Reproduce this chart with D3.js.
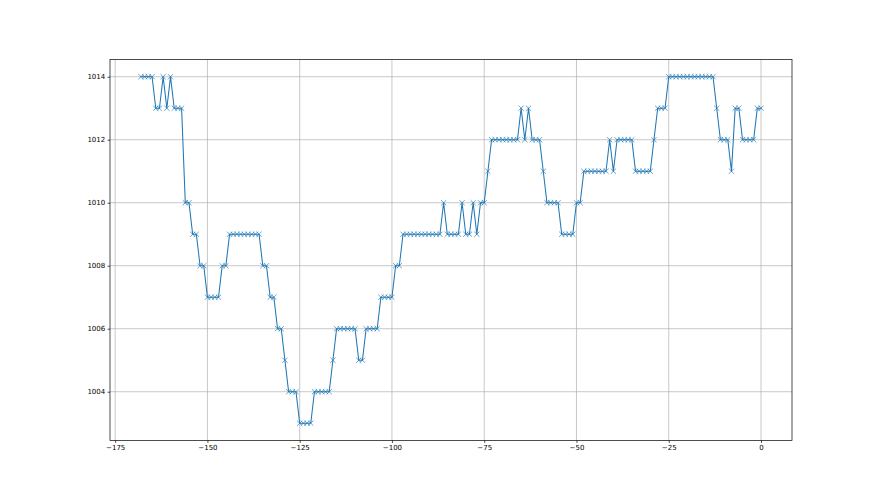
<!DOCTYPE html>
<html><head><meta charset="utf-8">
<script src="https://cdn.jsdelivr.net/npm/d3@7"></script>
<style>body{margin:0;background:#fff} svg{display:block}</style>
</head><body><svg id="c" width="880" height="495"></svg>
<script>
const hours = [
-168,-167,-166,-165,-164,-163,-162,-161,-160,-159,
-158,-157,-156,-155,-154,-153,-152,-151,-150,-149,
-148,-147,-146,-145,-144,-143,-142,-141,-140,-139,
-138,-137,-136,-135,-134,-133,-132,-131,-130,-129,
-128,-127,-126,-125,-124,-123,-122,-121,-120,-119,
-118,-117,-116,-115,-114,-113,-112,-111,-110,-109,
-108,-107,-106,-105,-104,-103,-102,-101,-100,-99,
-98,-97,-96,-95,-94,-93,-92,-91,-90,-89,
-88,-87,-86,-85,-84,-83,-82,-81,-80,-79,
-78,-77,-76,-75,-74,-73,-72,-71,-70,-69,
-68,-67,-66,-65,-64,-63,-62,-61,-60,-59,
-58,-57,-56,-55,-54,-53,-52,-51,-50,-49,
-48,-47,-46,-45,-44,-43,-42,-41,-40,-39,
-38,-37,-36,-35,-34,-33,-32,-31,-30,-29,
-28,-27,-26,-25,-24,-23,-22,-21,-20,-19,
-18,-17,-16,-15,-14,-13,-12,-11,-10,-9,
-8,-7,-6,-5,-4,-3,-2,-1,0];
const pressure = [
1014,1014,1014,1014,1013,1013,1014,1013,1014,1013,
1013,1013,1010,1010,1009,1009,1008,1008,1007,1007,
1007,1007,1008,1008,1009,1009,1009,1009,1009,1009,
1009,1009,1009,1008,1008,1007,1007,1006,1006,1005,
1004,1004,1004,1003,1003,1003,1003,1004,1004,1004,
1004,1004,1005,1006,1006,1006,1006,1006,1006,1005,
1005,1006,1006,1006,1006,1007,1007,1007,1007,1008,
1008,1009,1009,1009,1009,1009,1009,1009,1009,1009,
1009,1009,1010,1009,1009,1009,1009,1010,1009,1009,
1010,1009,1010,1010,1011,1012,1012,1012,1012,1012,
1012,1012,1012,1013,1012,1013,1012,1012,1012,1011,
1010,1010,1010,1010,1009,1009,1009,1009,1010,1010,
1011,1011,1011,1011,1011,1011,1011,1012,1011,1012,
1012,1012,1012,1012,1011,1011,1011,1011,1011,1012,
1013,1013,1013,1014,1014,1014,1014,1014,1014,1014,
1014,1014,1014,1014,1014,1014,1013,1012,1012,1012,
1011,1013,1013,1012,1012,1012,1012,1013,1013];
const xTicks = [-175,-150,-125,-100,-75,-50,-25,0];
const yTicks = [1004,1006,1008,1010,1012,1014];

const L = 110, R = 792, T = 59.4, B = 440.55;
const svg = d3.select("#c");
const x = d3.scaleLinear().domain([-176.4, 8.4]).range([L, R]);
const y = d3.scaleLinear().domain([1002.45, 1014.55]).range([B, T]);
const data = hours.map((h, i) => ({h, p: pressure[i]}));
const fmt = d3.format("d");
const font = "DejaVu Sans, sans-serif";

// grid
const g = svg.append("g");
g.selectAll(".vg").data(xTicks).join("line")
  .attr("x1", d => x(d)).attr("x2", d => x(d)).attr("y1", T).attr("y2", B)
  .attr("stroke", "#b0b0b0").attr("stroke-width", 0.7);
g.selectAll(".hg").data(yTicks).join("line")
  .attr("y1", d => y(d)).attr("y2", d => y(d)).attr("x1", L).attr("x2", R)
  .attr("stroke", "#b0b0b0").attr("stroke-width", 0.7);

// line
svg.append("path").datum(data)
  .attr("fill", "none").attr("stroke", "#1f77b4").attr("stroke-width", 1.05)
  .attr("stroke-linejoin", "round").attr("stroke-linecap", "square")
  .attr("d", d3.line().x(d => x(d.h)).y(d => y(d.p)));

// markers 'x'
const m = 2.6;
svg.append("g").selectAll("path").data(data).join("path")
  .attr("transform", d => `translate(${x(d.h)},${y(d.p)})`)
  .attr("d", `M${-m},${-m}L${m},${m}M${-m},${m}L${m},${-m}`)
  .attr("stroke", "#1f77b4").attr("stroke-opacity", 0.85).attr("stroke-width", 0.8).attr("fill", "none");

// spines
svg.append("rect").attr("x", L).attr("y", T).attr("width", R - L).attr("height", B - T)
  .attr("fill", "none").attr("stroke", "#000").attr("stroke-width", 0.7);

// axes
const xa = svg.append("g").attr("transform", `translate(0,${B})`)
  .call(d3.axisBottom(x).tickValues(xTicks).tickFormat(fmt).tickSize(2.4).tickPadding(2.4));
const ya = svg.append("g").attr("transform", `translate(${L},0)`)
  .call(d3.axisLeft(y).tickValues(yTicks).tickFormat(fmt).tickSize(2.4).tickPadding(2.4));
[xa, ya].forEach(a => {
  a.select(".domain").remove();
  a.selectAll("line").attr("stroke", "#000").attr("stroke-width", 0.7);
  a.selectAll("text").attr("font-family", font).attr("font-size", "7px").attr("fill", "#000");
});
</script>
</body></html>
